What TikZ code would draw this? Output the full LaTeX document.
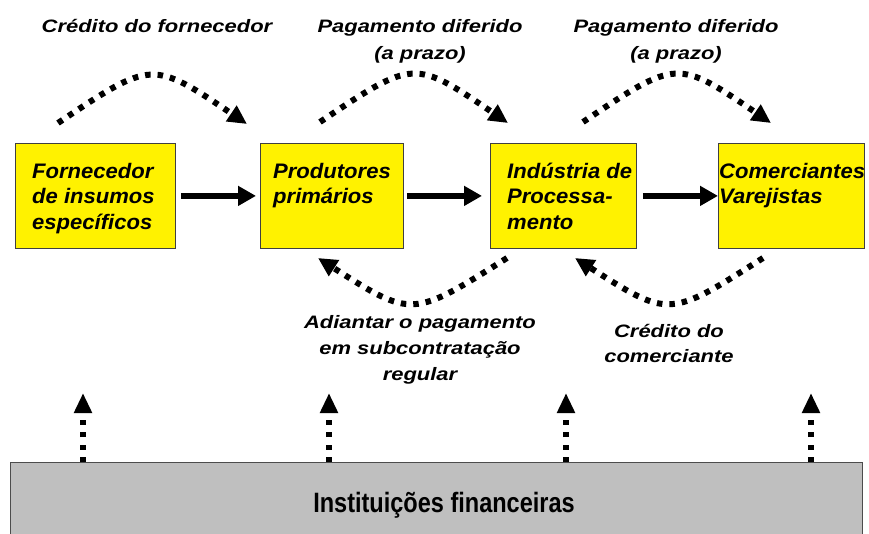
\documentclass[tikz,border=0pt]{standalone}
\usepackage{fontspec}
\setmainfont{Liberation Sans}
\newfontfamily\lblfont[FakeStretch=1.22]{Liberation Sans Bold Italic}
\newfontfamily\boxfont[FakeStretch=1.05]{Liberation Sans Bold Italic}
\newfontfamily\instfont[FakeStretch=0.84]{Liberation Sans Bold}
\usetikzlibrary{arrows.meta}
\begin{document}
\begin{tikzpicture}[x=1pt,y=-1pt,
  yellowbox/.style={draw=black!75, line width=0.8pt, fill=yellow, inner sep=0pt, anchor=north west, minimum height=105pt},
  boxtext/.style={anchor=base west, align=left, inner sep=0pt, font=\boxfont\fontsize{21}{25.5}\selectfont},
  lbltop/.style={anchor=base, align=center, inner sep=0pt, font=\lblfont\fontsize{18}{27}\selectfont},
  lblbot/.style={anchor=base, align=center, inner sep=0pt, font=\lblfont\fontsize{18}{26}\selectfont},
  solidarrow/.style={line width=6.5pt, -{Triangle[length=18pt,width=19pt]}},
  dotarrow/.style={line width=6pt, dash pattern=on 5.5pt off 7pt, -{Triangle[length=19pt,width=18pt]}},
  vdotarrow/.style={line width=5.5pt, dash pattern=on 5pt off 7.5pt, -{Triangle[length=20pt,width=17pt]}}
]
\useasboundingbox (0,0) rectangle (869,533);

% main boxes
\node[yellowbox, minimum width=160pt] (b1) at (15,143) {};
\node[yellowbox, minimum width=143pt] (b2) at (260,143) {};
\node[yellowbox, minimum width=146pt] (b3) at (490,143) {};
\node[yellowbox, minimum width=146pt] (b4) at (718,143) {};

% (base anchor = baseline of the last line)
\node[boxtext] (t1) at (32,229) {Fornecedor\\de insumos\\específicos};
\node[boxtext] (t2) at (273,203.5) {Produtores\\primários};
\node[boxtext] (t3) at (507,229) {Indústria de\\Processa-\\mento};
\node[boxtext] (t4) at (719,203.5) {Comerciantes\\Varejistas};

% solid arrows
\draw[solidarrow] ([xshift=5pt]b1.east) -- ([xshift=-4pt]b2.west);
\draw[solidarrow] ([xshift=3pt]b2.east) -- ([xshift=-8pt]b3.west);
\draw[solidarrow] ([xshift=6pt]b3.east) -- (b4.west);

% top dotted arcs
\coordinate (a1s) at (58,123);  \coordinate (a1e) at (247,124);
\coordinate (a2s) at (320,122); \coordinate (a2e) at (508,123);
\coordinate (a3s) at (583,122); \coordinate (a3e) at (771,123);
\draw[dotarrow] (a1s) .. controls (152,60) .. (a1e);
\draw[dotarrow] (a2s) .. controls (414,59) .. (a2e);
\draw[dotarrow] (a3s) .. controls (677,59) .. (a3e);

% bottom dotted arcs
\coordinate (a4s) at (507,258); \coordinate (a4e) at (318,258);
\coordinate (a5s) at (763,258); \coordinate (a5e) at (575,258);
\draw[dotarrow] (a4s) .. controls (412,318) .. (a4e);
\draw[dotarrow] (a5s) .. controls (669,318) .. (a5e);

% labels (base anchor = baseline of the last line)
\node[lbltop] (l1) at (157,32) {Crédito do fornecedor};
\node[lbltop] (l2) at (420,59) {Pagamento diferido\\(a prazo)};
\node[lbltop] (l3) at (676,59) {Pagamento diferido\\(a prazo)};
\node[lblbot] (l4) at (420,380) {Adiantar o pagamento\\em subcontratação\\regular};
\node[lblbot, font=\lblfont\fontsize{18}{25}\selectfont] (l5) at (669,362) {Crédito do\\comerciante};

% financial institutions
\node[draw=black!70, line width=0.8pt, fill=black!25, inner sep=0pt, anchor=north west, minimum width=852pt, minimum height=90pt] (fin) at (10,462) {};
\node[anchor=base, inner sep=0pt, font=\instfont\fontsize{28}{30}\selectfont] (finlbl) at (444,512) {Instituições financeiras};

\coordinate (u1) at (83,393);
\coordinate (u2) at (329,393);
\coordinate (u3) at (566,393);
\coordinate (u4) at (811,393);
\draw[vdotarrow] (u1 |- fin.north) -- (u1);
\draw[vdotarrow] (u2 |- fin.north) -- (u2);
\draw[vdotarrow] (u3 |- fin.north) -- (u3);
\draw[vdotarrow] (u4 |- fin.north) -- (u4);
\end{tikzpicture}
\end{document}
